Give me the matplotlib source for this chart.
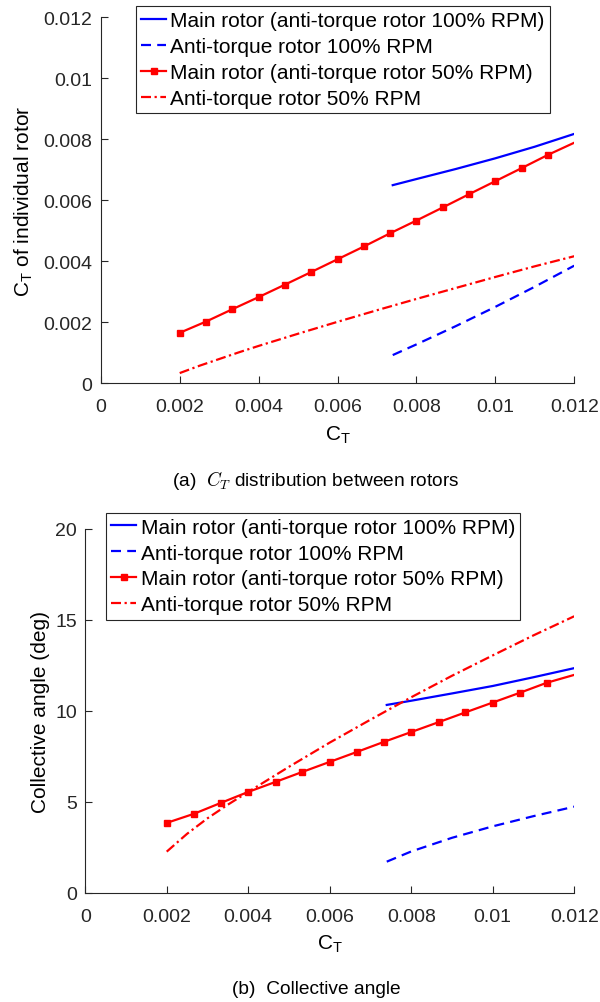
import numpy as np
import matplotlib
matplotlib.use('Agg')
from matplotlib import pyplot as plt

plt.rcParams['font.family'] = ['Liberation Sans', 'DejaVu Sans']
plt.rcParams['font.size'] = 14

# CT values where the data was sampled
ct_main50 = [0.002, 0.00267, 0.00333, 0.004, 0.00467, 0.00533, 0.006, 0.00667,
             0.00733, 0.008, 0.00867, 0.00933, 0.01, 0.01067, 0.01133, 0.012]
ct_anti50 = [0.002, 0.0025, 0.003, 0.0035, 0.004, 0.005, 0.006, 0.007, 0.008,
             0.009, 0.010, 0.011, 0.012]
ct_main100 = [0.0074, 0.008, 0.009, 0.010, 0.011, 0.012]
ct_anti100 = [0.0074, 0.008, 0.009, 0.010, 0.011, 0.012]

# (a) CT of individual rotor
cti_main100 = [0.00649, 0.00669, 0.00702, 0.00737, 0.00775, 0.00817]
cti_anti100 = [0.00092, 0.00127, 0.00187, 0.00250, 0.00316, 0.00385]
cti_main50 = [0.00165, 0.00202, 0.00242, 0.00282, 0.00323, 0.00364, 0.00406, 0.00448,
              0.00491, 0.00533, 0.00576, 0.00619, 0.00662, 0.00705, 0.00748, 0.00788]
cti_anti50 = [0.00033, 0.00057, 0.00079, 0.00101, 0.00122, 0.00162, 0.00201, 0.00239,
              0.00276, 0.00312, 0.00348, 0.00383, 0.00416]

# (b) collective angle, deg
col_main100 = [10.33, 10.56, 10.96, 11.37, 11.85, 12.35]
col_anti100 = [1.72, 2.28, 3.03, 3.66, 4.22, 4.74]
col_main50 = [3.85, 4.35, 4.95, 5.55, 6.10, 6.65, 7.20, 7.75,
              8.30, 8.84, 9.38, 9.92, 10.46, 11.00, 11.55, 11.98]
col_anti50 = [2.27, 3.25, 4.10, 4.85, 5.55, 6.93, 8.26, 9.52, 10.75,
              11.93, 13.05, 14.15, 15.20]

labels = ['Main rotor (anti-torque rotor 100% RPM)',
          'Anti-torque rotor 100% RPM',
          'Main rotor (anti-torque rotor 50% RPM)',
          'Anti-torque rotor 50% RPM']
xticks = [0, 0.002, 0.004, 0.006, 0.008, 0.01, 0.012]
xticklabels = ['0', '0.002', '0.004', '0.006', '0.008', '0.01', '0.012']

ax_col = '#262626'


def draw(ax, y1, y2, y3, y4):
    ax.plot(ct_main100, y1, color='#0000ff', lw=1.6)
    ax.plot(ct_anti100, y2, color='#0000ff', lw=1.6, dashes=(4.5, 2.8))
    ax.plot(ct_main50, y3, color='#ff0000', lw=1.6, marker='s', ms=5,
            markevery=list(range(15)))
    ax.plot(ct_anti50, y4, color='#ff0000', lw=1.6, dashes=(4.5, 1.6, 1, 1.6))
    ax.set_xlim(0, 0.012)
    ax.set_xticks(xticks)
    ax.set_xticklabels(xticklabels)
    for s in ['top', 'right']:
        ax.spines[s].set_visible(False)
    for s in ['left', 'bottom']:
        ax.spines[s].set_color(ax_col)
        ax.spines[s].set_linewidth(0.8)
    ax.tick_params(direction='in', length=5, color=ax_col, labelcolor=ax_col,
                   labelsize=14, pad=6)
    ax.tick_params(axis='x', pad=10.5)
    ax.set_xlabel(r'C$_\mathregular{T}$', fontsize=15, color='k', labelpad=6)


def add_legend(ax, x0, y0):
    leg = ax.legend(labels, loc='upper left', bbox_to_anchor=(x0, y0),
                    fontsize=15, handlelength=1.2, handletextpad=0.2,
                    labelspacing=0.33, borderpad=0.25, borderaxespad=0,
                    fancybox=False, framealpha=1, edgecolor=ax_col)
    leg.get_frame().set_linewidth(0.8)


fig = plt.figure(figsize=(6, 10.03), dpi=100)

# top plot
ax1 = fig.add_axes([0.168, 0.617, 0.789, 0.365])
draw(ax1, cti_main100, cti_anti100, cti_main50, cti_anti50)
ax1.set_ylim(0, 0.012)
ax1.set_yticks([0, 0.002, 0.004, 0.006, 0.008, 0.01, 0.012])
ax1.set_yticklabels(['0', '0.002', '0.004', '0.006', '0.008', '0.01', '0.012'])
ax1.set_ylabel(r'C$_\mathregular{T}$ of individual rotor', fontsize=15, labelpad=6)
add_legend(ax1, 0.074, 1.03)

# bottom plot
ax2 = fig.add_axes([0.142, 0.1087, 0.815, 0.363])
draw(ax2, col_main100, col_anti100, col_main50, col_anti50)
ax2.set_ylim(0, 20)
ax2.set_yticks([0, 5, 10, 15, 20])
ax2.set_ylabel('Collective angle (deg)', fontsize=15, labelpad=4)
add_legend(ax2, 0.043, 1.045)

# captions
fig.text(0.527, 1 - 480 / 1003., r'(a)  $C_T$ distribution between rotors',
         ha='center', va='center', fontsize=13.8, math_fontfamily='cm')
fig.text(0.527, 1 - 990 / 1003., '(b)  Collective angle',
         ha='center', va='center', fontsize=13.8)

fig.savefig('out.png', dpi=100)
